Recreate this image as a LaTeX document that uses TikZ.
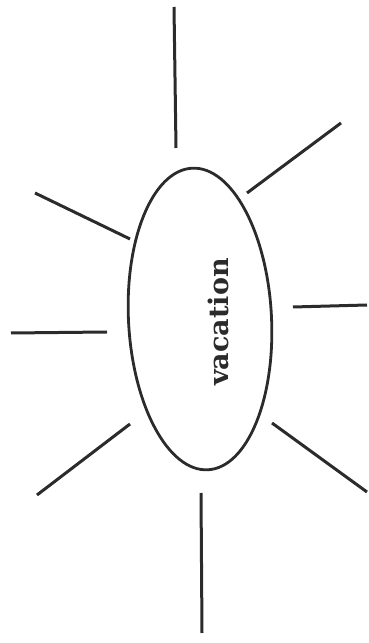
\documentclass[tikz,border=0pt]{standalone}
\usepackage{fontspec}
\newfontfamily\vserif{DejaVu Serif}
\usetikzlibrary{shapes.geometric}
\definecolor{ink}{HTML}{2B2B2B}
\tikzset{
  ray/.style={draw=ink, line width=3pt},
  bubble/.style={ellipse, draw=ink, line width=2.8pt, minimum width=143pt, minimum height=302pt, inner sep=0pt},
  vlabel/.style={text=ink, inner sep=0pt, font=\vserif\bfseries\fontsize{27}{32}\selectfont}
}
\begin{document}
\begin{tikzpicture}[x=1pt,y=1pt]
\useasboundingbox (0,0) rectangle (369,643);
\node[bubble, rotate=3] (v) at (200,324) {};
\node[vlabel, rotate=90] (t) at (218,321) {vacation};
% rays
\coordinate (a1) at (174,636); \coordinate (a2) at (176,495);
\coordinate (b1) at (247,450); \coordinate (b2) at (341,520);
\coordinate (c1) at (130,404); \coordinate (c2) at (35,450);
\coordinate (d1) at (107,311); \coordinate (d2) at (11,310);
\coordinate (e1) at (293,336); \coordinate (e2) at (367,338);
\coordinate (f1) at (130,219); \coordinate (f2) at (37,148);
\coordinate (g1) at (272,220); \coordinate (g2) at (367,151);
\coordinate (h1) at (201,150); \coordinate (h2) at (202,10);
\draw[ray] (a1) -- (a2);
\draw[ray] (b1) -- (b2);
\draw[ray] (c1) -- (c2);
\draw[ray] (d1) -- (d2);
\draw[ray] (e1) -- (e2);
\draw[ray] (f1) -- (f2);
\draw[ray] (g1) -- (g2);
\draw[ray] (h1) -- (h2);
\end{tikzpicture}
\end{document}
